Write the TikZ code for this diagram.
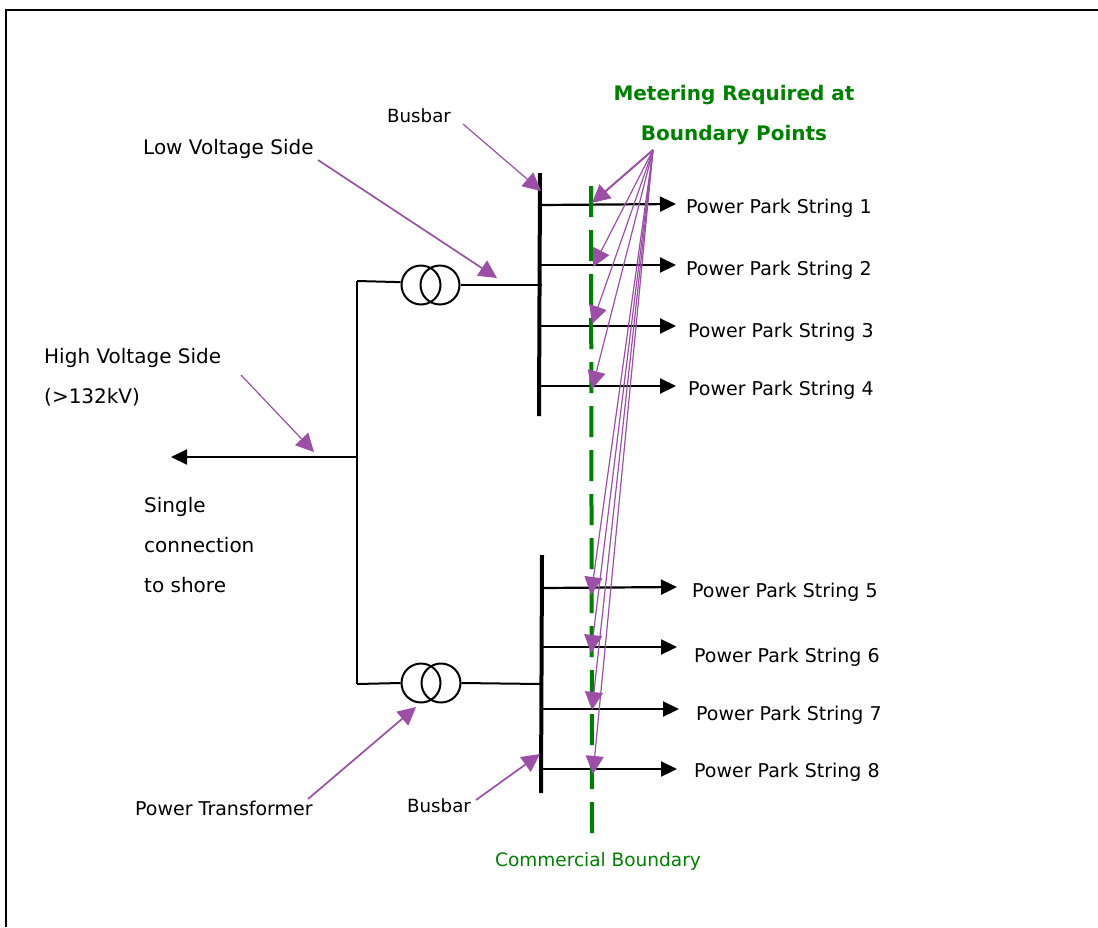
\documentclass[tikz,border=0pt]{standalone}
\usepackage{fontspec}
\setmainfont{DejaVu Sans}
\usetikzlibrary{arrows.meta}
\definecolor{meterpurple}{RGB}{155,79,166}
\definecolor{boundgreen}{RGB}{0,128,0}
\tikzset{
  lbl/.style={anchor=west,inner sep=0pt,font=\fontsize{19}{21}\selectfont},
  lblbig/.style={lbl,font=\fontsize{20}{22}\selectfont},
  lblbold/.style={text=boundgreen,inner sep=0pt,font=\fontsize{20}{22}\selectfont\bfseries},
  wire/.style={color=black,line width=2pt},
  feeder/.style={color=black,line width=2.2pt,-{Triangle[length=16pt,width=15pt]}},
  pointer/.style={color=meterpurple,line width=1.7pt,-{Triangle[length=18pt,width=18pt]}},
  thinpointer/.style={pointer,line width=1.2pt},
  winding/.style={draw=black,line width=2pt,circle,minimum size=39pt,inner sep=0pt},
  busbar/.style={color=black,line width=4pt}
}
\begin{document}
\begin{tikzpicture}[x=1pt,y=-1pt]
\useasboundingbox (0,0) rectangle (1098,927);
\draw[color=black,line width=2pt] (6,927) -- (6,10) -- (1098,10);

% busbars
\coordinate (busAtop) at (540,173);
\coordinate (busAbot) at (539,416);
\coordinate (busBtop) at (542,555);
\coordinate (busBbot) at (541,793);
\draw[busbar] (busAtop) -- (busAbot);
\draw[busbar] (busBtop) -- (busBbot);

% transformers
\node[winding] (txAl) at (421,285) {};
\node[winding] (txAr) at (440,285) {};
\node[winding] (txBl) at (421,683) {};
\node[winding] (txBr) at (441,683) {};

\coordinate (hvA) at (357,281);
\coordinate (hvM) at (357,457);
\coordinate (hvB) at (357,684);
\coordinate (shore) at (171,457);
\coordinate (busAin) at (542,285);
\coordinate (busBin) at (541,684);
\draw[wire] (hvA) -- (hvB);
\draw[wire] (hvA) -- (txAl.172);
\draw[wire] (hvB) -- (txBl.west);
\draw[wire] (txAr.east) -- (busAin);
\draw[wire] (txBr.east) -- (busBin);
\draw[feeder,line width=2pt] (hvM) -- (shore);

% strings
\foreach \n/\xa/\ya/\xb/\yb/\tx/\ty in {
  1/541/205/676/204/686/208, 2/541/265/676/265/686/270,
  3/541/326/676/326/688/332, 4/541/386/676/386/688/390,
  5/543/588/677/587/692/592, 6/543/647/677/647/694/657,
  7/543/709/679/709/696/715, 8/543/769/677/769/694/772}{
  \node[lbl] (string\n) at (\tx,\ty) {Power Park String \n};
  \coordinate (tap\n) at (\xa,\ya);
  \coordinate (out\n) at (\xb,\yb);
  \draw[feeder] (tap\n) -- (out\n);
}

% commercial boundary
\coordinate (cbtop) at (591,186);
\coordinate (cbbot) at (592,834);
\draw[color=boundgreen,line width=4pt,dash pattern=on 31pt off 13pt] (cbtop) -- (cbbot);
\node[lbl,text=boundgreen,font=\fontsize{18.5}{20}\selectfont] (cblabel) at (495,861) {Commercial Boundary};

% metering
\node[lblbold] (meterA) at (734,95) {Metering Required at};
\node[lblbold] (meterB) at (734,135) {Boundary Points};
\coordinate (apex) at (653,150);
\coordinate (mp1) at (592,203);
\draw[pointer,line width=2pt] (apex) -- (mp1);
\foreach \n/\x/\y in {2/593/267,3/592/324,4/592/389,5/591/595,6/591/653,7/592/710,8/593/774}{
  \coordinate (mp\n) at (\x,\y);
  \draw[thinpointer] (apex) -- (mp\n);
}

% labels
\node[lbl,font=\fontsize{18.2}{20}\selectfont] (busAlabel) at (387,116) {Busbar};
\node[lblbig] (lvlabel) at (143,149) {Low Voltage Side};
\node[lblbig] (hvlabel) at (44,358) {High Voltage Side};
\node[lblbig] (hvval) at (44,397) {(>132kV)};
\node[lblbig] (singleA) at (144,507) {Single};
\node[lblbig] (singleB) at (144,545) {connection};
\node[lblbig] (singleC) at (144,585) {to shore};
\node[lbl] (txlabel) at (135,808) {Power Transformer};
\node[lbl,font=\fontsize{18.2}{20}\selectfont] (busBlabel) at (407,806) {Busbar};

\coordinate (pbusA) at (463,124);
\coordinate (pbusAe) at (541,191);
\coordinate (plv) at (318,160);
\coordinate (plve) at (497,278);
\coordinate (phv) at (241,375);
\coordinate (phve) at (314,452);
\coordinate (ptx) at (308,799);
\coordinate (ptxe) at (416,707);
\coordinate (pbusB) at (476,800);
\coordinate (pbusBe) at (540,754);
\draw[thinpointer] (pbusA) -- (pbusAe);
\draw[pointer] (plv) -- (plve);
\draw[thinpointer] (phv) -- (phve);
\draw[pointer] (ptx) -- (ptxe);
\draw[pointer] (pbusB) -- (pbusBe);

\end{tikzpicture}
\end{document}
